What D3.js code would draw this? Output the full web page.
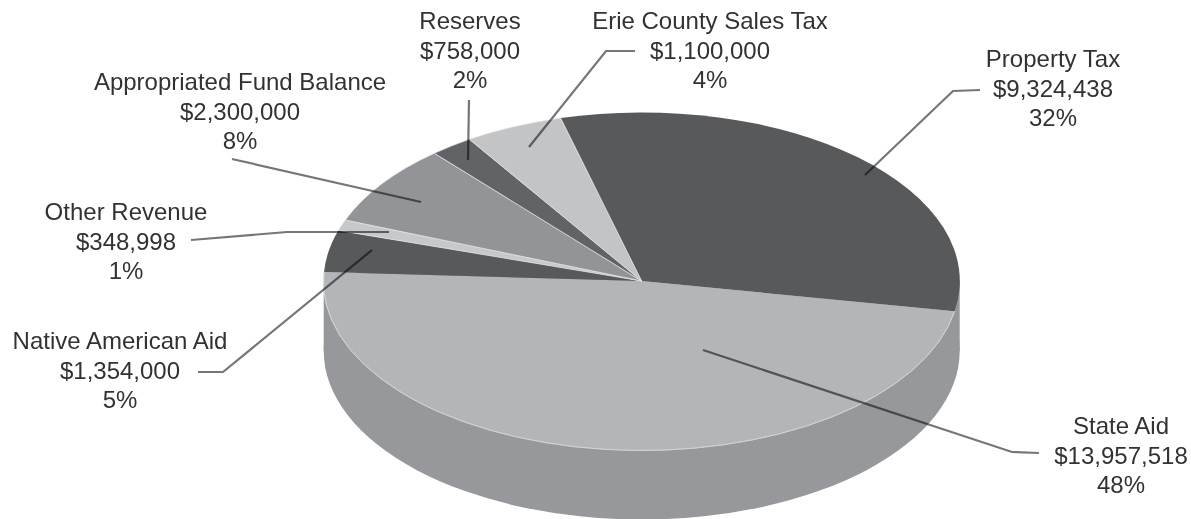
<!DOCTYPE html>
<html>
<head>
<meta charset="utf-8">
<script src="https://cdn.jsdelivr.net/npm/d3@7"></script>
<style>
  html, body { margin: 0; padding: 0; background: #fff; }
  text { font-family: "Liberation Sans", sans-serif; font-size: 24px; fill: #333233; }
</style>
</head>
<body>
<div id="chart"></div>
<script>
const categories = ["Property Tax", "State Aid", "Native American Aid", "Other Revenue",
  "Appropriated Fund Balance", "Reserves", "Erie County Sales Tax"];
const amountLabels = ["$9,324,438", "$13,957,518", "$1,354,000", "$348,998", "$2,300,000", "$758,000", "$1,100,000"];
const percentLabels = ["32%", "48%", "5%", "1%", "8%", "2%", "4%"];
// slice sizes as drawn in the picture (percent), they differ a little from the printed labels
const drawnShares = [32, 48, 4, 1.05, 7.8, 2.2, 5];

const sliceColors = ["#58595b", "#b4b5b8", "#58595b", "#c7c8ca", "#929497", "#626366", "#c3c4c6"];
const sideColor = "#97989b";

const width = 1191;
const height = 519;
const cx = 641.7;
const cy = 281;
const rx = 318;
const ry = 168.5;
const depth = 70;

// label block centre + baseline of first line, then the leader line
const labelX = [1053, 1121, 120, 126, 240, 470, 710];
const labelY = [67, 434, 349, 220, 90, 29, 29];
const leaders = [
  [[865, 175], [953, 91], [980, 90]],
  [[703, 350], [1012, 452], [1039, 453]],
  [[372, 250], [223, 372], [198, 372]],
  [[389, 232], [287, 232], [191, 240]],
  [[421, 202], [232, 159]],
  [[468, 160], [469, 100]],
  [[529, 147], [606, 51], [635, 51]]
];

const svg = d3.select("#chart").append("svg")
  .attr("width", width)
  .attr("height", height)
  .style("display", "block");

const pie = d3.pie()
  .sort(null)
  .startAngle(-14.8 * Math.PI / 180)
  .endAngle((360 - 14.8) * Math.PI / 180);

const arc = d3.arc().innerRadius(0).outerRadius(1);
const rim = d3.arc().innerRadius(1).outerRadius(1);
const fullCircle = arc({ startAngle: 0, endAngle: 2 * Math.PI });
const slices = pie(drawnShares);

// side wall of the disc
svg.append("path")
  .attr("d", fullCircle)
  .attr("transform", `translate(${cx},${cy + depth}) scale(${rx},${ry})`)
  .attr("fill", sideColor);
svg.append("rect")
  .attr("x", cx - rx)
  .attr("y", cy)
  .attr("width", 2 * rx)
  .attr("height", depth)
  .attr("fill", sideColor);

// top face, the small slices on the upper left have light seams, the big ones do not
const topFace = svg.append("g")
  .attr("transform", `translate(${cx},${cy}) scale(${rx},${ry})`);
topFace.selectAll("path.slice")
  .data(slices)
  .join("path")
  .attr("class", "slice")
  .attr("d", arc)
  .attr("fill", (d, i) => sliceColors[i])
  .attr("stroke", (d, i) => i >= 3 ? "#e8e8e9" : "none")
  .attr("stroke-width", 0.7)
  .attr("vector-effect", "non-scaling-stroke");
topFace.append("path")
  .attr("d", rim(slices[1]))
  .attr("fill", "none")
  .attr("stroke", "#d6d7d8")
  .attr("stroke-width", 0.7)
  .attr("vector-effect", "non-scaling-stroke");

const line = d3.line();
svg.selectAll(".leader")
  .data(leaders)
  .join("path")
  .attr("class", "leader")
  .attr("d", line)
  .attr("fill", "none")
  .attr("stroke", "#757679")
  .attr("stroke-width", 2.2)
  .style("mix-blend-mode", "multiply");

const labels = svg.selectAll(".label")
  .data(categories)
  .join("text")
  .attr("class", "label")
  .attr("text-anchor", "middle")
  .attr("y", (d, i) => labelY[i]);

labels.each(function (d, i) {
  const rows = [d, amountLabels[i], percentLabels[i]];
  d3.select(this).selectAll("tspan")
    .data(rows)
    .join("tspan")
    .attr("x", labelX[i])
    .attr("dy", (r, j) => j === 0 ? 0 : 29.5)
    .text(r => r);
});
</script>
</body>
</html>
